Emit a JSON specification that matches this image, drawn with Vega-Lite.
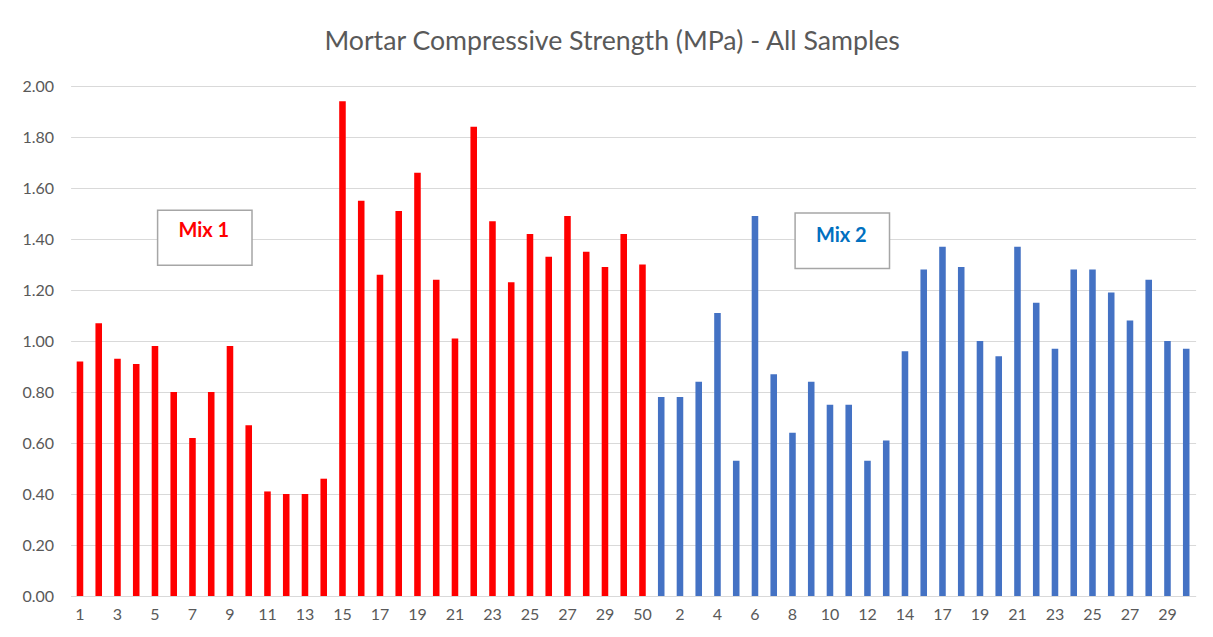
{
  "$schema": "https://vega.github.io/schema/vega-lite/v6.json",
  "width": 1125,
  "height": 510,
  "autosize": {"type": "none"},
  "padding": {"left": 70.6, "top": 86, "right": 17.4, "bottom": 41},
  "background": "white",
  "title": {
    "text": "Mortar Compressive Strength (MPa) - All Samples",
    "font": "Lato",
    "fontSize": 26.7,
    "fontWeight": "normal",
    "color": "#595959",
    "anchor": "middle",
    "dx": -21,
    "offset": 1,
    "baseline": "alphabetic"
  },
  "config": {
    "font": "Lato",
    "view": {"stroke": null}
  },
  "resolve": {"scale": {"color": "independent"}},
  "datasets": {
    "bars": [
      {"key": "A-1", "group": "Mix 1", "value": 0.92},
      {"key": "A-2", "group": "Mix 1", "value": 1.07},
      {"key": "A-3", "group": "Mix 1", "value": 0.93},
      {"key": "A-4", "group": "Mix 1", "value": 0.91},
      {"key": "A-5", "group": "Mix 1", "value": 0.98},
      {"key": "A-6", "group": "Mix 1", "value": 0.80},
      {"key": "A-7", "group": "Mix 1", "value": 0.62},
      {"key": "A-8", "group": "Mix 1", "value": 0.80},
      {"key": "A-9", "group": "Mix 1", "value": 0.98},
      {"key": "A-10", "group": "Mix 1", "value": 0.67},
      {"key": "A-11", "group": "Mix 1", "value": 0.41},
      {"key": "A-12", "group": "Mix 1", "value": 0.40},
      {"key": "A-13", "group": "Mix 1", "value": 0.40},
      {"key": "A-14", "group": "Mix 1", "value": 0.46},
      {"key": "A-15", "group": "Mix 1", "value": 1.94},
      {"key": "A-16", "group": "Mix 1", "value": 1.55},
      {"key": "A-17", "group": "Mix 1", "value": 1.26},
      {"key": "A-18", "group": "Mix 1", "value": 1.51},
      {"key": "A-19", "group": "Mix 1", "value": 1.66},
      {"key": "A-20", "group": "Mix 1", "value": 1.24},
      {"key": "A-21", "group": "Mix 1", "value": 1.01},
      {"key": "A-22", "group": "Mix 1", "value": 1.84},
      {"key": "A-23", "group": "Mix 1", "value": 1.47},
      {"key": "A-24", "group": "Mix 1", "value": 1.23},
      {"key": "A-25", "group": "Mix 1", "value": 1.42},
      {"key": "A-26", "group": "Mix 1", "value": 1.33},
      {"key": "A-27", "group": "Mix 1", "value": 1.49},
      {"key": "A-28", "group": "Mix 1", "value": 1.35},
      {"key": "A-29", "group": "Mix 1", "value": 1.29},
      {"key": "A-30", "group": "Mix 1", "value": 1.42},
      {"key": "A-50", "group": "Mix 1", "value": 1.30},
      {"key": "B-1", "group": "Mix 2", "value": 0.78},
      {"key": "B-2", "group": "Mix 2", "value": 0.78},
      {"key": "B-3", "group": "Mix 2", "value": 0.84},
      {"key": "B-4", "group": "Mix 2", "value": 1.11},
      {"key": "B-5", "group": "Mix 2", "value": 0.53},
      {"key": "B-6", "group": "Mix 2", "value": 1.49},
      {"key": "B-7", "group": "Mix 2", "value": 0.87},
      {"key": "B-8", "group": "Mix 2", "value": 0.64},
      {"key": "B-9", "group": "Mix 2", "value": 0.84},
      {"key": "B-10", "group": "Mix 2", "value": 0.75},
      {"key": "B-11", "group": "Mix 2", "value": 0.75},
      {"key": "B-12", "group": "Mix 2", "value": 0.53},
      {"key": "B-13", "group": "Mix 2", "value": 0.61},
      {"key": "B-14", "group": "Mix 2", "value": 0.96},
      {"key": "B-16", "group": "Mix 2", "value": 1.28},
      {"key": "B-17", "group": "Mix 2", "value": 1.37},
      {"key": "B-18", "group": "Mix 2", "value": 1.29},
      {"key": "B-19", "group": "Mix 2", "value": 1.00},
      {"key": "B-20", "group": "Mix 2", "value": 0.94},
      {"key": "B-21", "group": "Mix 2", "value": 1.37},
      {"key": "B-22", "group": "Mix 2", "value": 1.15},
      {"key": "B-23", "group": "Mix 2", "value": 0.97},
      {"key": "B-24", "group": "Mix 2", "value": 1.28},
      {"key": "B-25", "group": "Mix 2", "value": 1.28},
      {"key": "B-26", "group": "Mix 2", "value": 1.19},
      {"key": "B-27", "group": "Mix 2", "value": 1.08},
      {"key": "B-28", "group": "Mix 2", "value": 1.24},
      {"key": "B-29", "group": "Mix 2", "value": 1.00},
      {"key": "B-30", "group": "Mix 2", "value": 0.97}
    ],
    "boxes": [
      {"group": "Mix 1", "key": "A-5", "key2": "A-10", "top": 1.513, "bottom": 1.297},
      {"group": "Mix 2", "key": "B-8", "key2": "B-13", "top": 1.502, "bottom": 1.284}
    ],
    "labels": [
      {"group": "Mix 1", "key": "A-8", "y": 1.43, "text": "Mix 1"},
      {"group": "Mix 2", "key": "B-11", "y": 1.413, "text": "Mix 2"}
    ]
  },
  "layer": [
    {
      "data": {"name": "bars"},
      "mark": {"type": "bar"},
      "encoding": {
        "x": {
          "field": "key",
          "type": "nominal",
          "scale": {
            "domain": ["A-1","A-2","A-3","A-4","A-5","A-6","A-7","A-8","A-9","A-10","A-11","A-12","A-13","A-14","A-15","A-16","A-17","A-18","A-19","A-20","A-21","A-22","A-23","A-24","A-25","A-26","A-27","A-28","A-29","A-30","A-50","B-1","B-2","B-3","B-4","B-5","B-6","B-7","B-8","B-9","B-10","B-11","B-12","B-13","B-14","B-16","B-17","B-18","B-19","B-20","B-21","B-22","B-23","B-24","B-25","B-26","B-27","B-28","B-29","B-30"],
            "paddingInner": 0.65,
            "paddingOuter": 0.325
          },
          "axis": {
            "values": ["A-1","A-3","A-5","A-7","A-9","A-11","A-13","A-15","A-17","A-19","A-21","A-23","A-25","A-27","A-29","A-50","B-2","B-4","B-6","B-8","B-10","B-12","B-14","B-17","B-19","B-21","B-23","B-25","B-27","B-29"],
            "labelExpr": "split(datum.value, '-')[1]",
            "title": null,
            "labelAngle": 0,
            "ticks": false,
            "domain": true,
            "domainColor": "#d9d9d9",
            "grid": false,
            "labelFont": "Lato",
            "labelFontSize": 16,
            "labelColor": "#595959",
            "labelPadding": 10
          }
        },
        "y": {
          "field": "value",
          "type": "quantitative",
          "scale": {"domain": [0, 2], "nice": false},
          "axis": {
            "values": [0, 0.2, 0.4, 0.6, 0.8, 1.0, 1.2, 1.4, 1.6, 1.8, 2.0],
            "format": ".2f",
            "title": null,
            "domain": false,
            "ticks": false,
            "grid": true,
            "gridColor": "#d9d9d9",
            "gridWidth": 1,
            "labelFont": "Lato",
            "labelFontSize": 16,
            "labelColor": "#595959",
            "labelPadding": 17
          }
        },
        "color": {
          "field": "group",
          "type": "nominal",
          "scale": {"domain": ["Mix 1", "Mix 2"], "range": ["#FF0000", "#4472C4"]},
          "legend": null
        }
      }
    },
    {
      "data": {"name": "boxes"},
      "mark": {"type": "rect", "fill": "white", "stroke": "#a6a6a6", "strokeWidth": 1.5},
      "encoding": {
        "x": {"field": "key", "type": "nominal", "bandPosition": 0.9},
        "x2": {"field": "key2", "bandPosition": 1.0},
        "y": {"field": "top", "type": "quantitative"},
        "y2": {"field": "bottom"}
      }
    },
    {
      "data": {"name": "labels"},
      "mark": {"type": "text", "font": "Lato", "fontSize": 20, "fontWeight": "bold", "baseline": "middle", "align": "center", "dx": -4.5},
      "encoding": {
        "x": {"field": "key", "type": "nominal", "bandPosition": 0.05},
        "y": {"field": "y", "type": "quantitative"},
        "text": {"field": "text"},
        "color": {
          "field": "group",
          "type": "nominal",
          "scale": {"domain": ["Mix 1", "Mix 2"], "range": ["#FF0000", "#0070C0"]},
          "legend": null
        }
      }
    }
  ]
}
